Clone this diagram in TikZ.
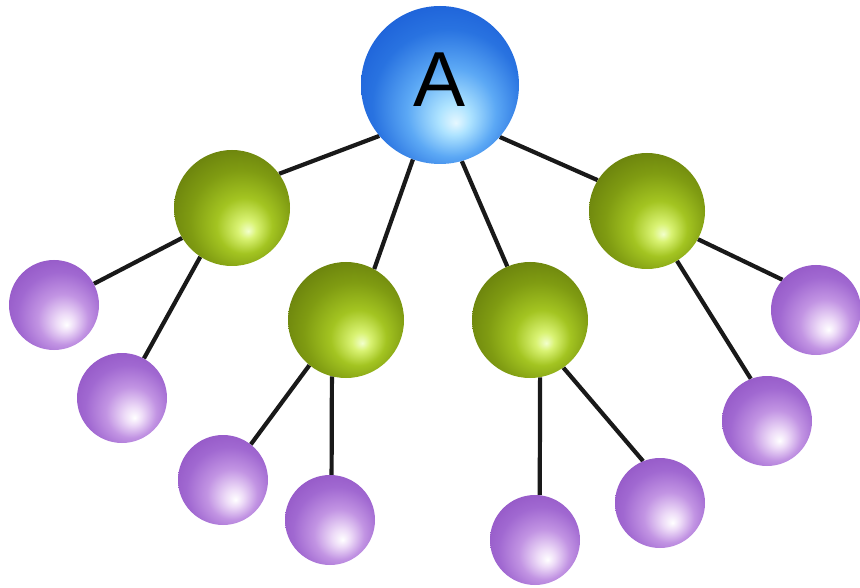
\documentclass[tikz,border=0pt]{standalone}
\usepackage{fontspec}
\setmainfont{Liberation Sans}
\usetikzlibrary{backgrounds}
\pgfdeclareradialshading{blueball}{\pgfpoint{5bp}{-12bp}}{%
 rgb(0bp)=(0.9,0.97,1); rgb(5bp)=(0.68,0.89,1); rgb(14bp)=(0.36,0.66,0.96);
 rgb(24bp)=(0.16,0.45,0.88); rgb(34bp)=(0.1,0.36,0.84); rgb(50bp)=(0.1,0.36,0.84)}
\pgfdeclareradialshading{greenball}{\pgfpoint{7bp}{-10bp}}{%
 rgb(0bp)=(0.95,1,0.8); rgb(4bp)=(0.85,0.95,0.45); rgb(12bp)=(0.64,0.77,0.13);
 rgb(22bp)=(0.5,0.61,0.07); rgb(32bp)=(0.41,0.5,0.05); rgb(50bp)=(0.41,0.5,0.05)}
\pgfdeclareradialshading{purpleball}{\pgfpoint{7bp}{-11bp}}{%
 rgb(0bp)=(1,1,1); rgb(5bp)=(0.93,0.86,0.97); rgb(14bp)=(0.76,0.58,0.89);
 rgb(24bp)=(0.63,0.41,0.82); rgb(34bp)=(0.57,0.33,0.77); rgb(50bp)=(0.57,0.33,0.77)}
\tikzset{
  root/.style={circle, inner sep=0pt, minimum size=158pt, shading=blueball},
  mid/.style={circle, inner sep=0pt, minimum size=116pt, shading=greenball},
  leaf/.style={circle, inner sep=0pt, minimum size=90pt, shading=purpleball},
  edge/.style={line width=4.2pt, black!90}
}
\begin{document}
\begin{tikzpicture}[x=1pt,y=-1pt]
\useasboundingbox (0,0) rectangle (860,588);
\node[root] (A) at (440,85) {};
\node[font=\fontsize{78}{80}\selectfont] (Alabel) at (440,80) {A};
\node[mid] (G1) at (232,208) {};
\node[mid] (G2) at (346,320) {};
\node[mid] (G3) at (530,320) {};
\node[mid] (G4) at (647,211) {};
\node[leaf] (P1) at (54,305) {};
\node[leaf] (P2) at (122,398) {};
\node[leaf] (P3) at (223,480) {};
\node[leaf] (P4) at (330,520) {};
\node[leaf] (P5) at (535,540) {};
\node[leaf] (P6) at (660,503) {};
\node[leaf] (P7) at (767,421) {};
\node[leaf] (P8) at (816,310) {};
\begin{scope}[on background layer]
\draw[edge] (A.220) -- (G1.36);
\draw[edge] (A.250) -- (G2.61);
\draw[edge] (A.286) -- (G3.113);
\draw[edge] (A.319) -- (G4.148);
\draw[edge] (G1.211) -- (P1.28);
\draw[edge] (G1.237) -- (P2.61);
\draw[edge] (G2.231) -- (P3.52);
\draw[edge] (G2.256) -- (P4.88);
\draw[edge] (G3.280) -- (P5.84);
\draw[edge] (G3.305) -- (P6.112);
\draw[edge] (G4.301) -- (P7.111);
\draw[edge] (G4.331) -- (P8.138);
\end{scope}
\end{tikzpicture}
\end{document}
